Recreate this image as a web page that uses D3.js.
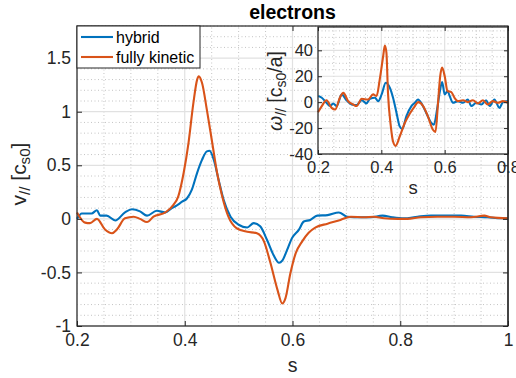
<!DOCTYPE html>
<html>
<head>
<meta charset="utf-8">
<script src="https://cdn.jsdelivr.net/npm/d3@7/dist/d3.min.js"></script>
<style>
  html, body { margin: 0; padding: 0; background: #fff; }
  svg { display: block; font-family: "Liberation Sans", Arial, Helvetica, sans-serif; }
</style>
</head>
<body>
<svg id="chart" width="516" height="378"></svg>
<script>
// ---- main panel: parallel velocity v_// along s ----
const hybridS = [0.200,0.209,0.227,0.237,0.243,0.255,0.271,0.289,0.302,0.317,0.330,0.348,0.364,0.376,0.382,0.395,0.404,0.413,0.423,0.432,0.441,0.446,0.454,0.463,0.472,0.485,0.500,0.516,0.528,0.540,0.553,0.565,0.575,0.581,0.590,0.599,0.612,0.621,0.633,0.646,0.665,0.686,0.702,0.727,0.745,0.767,0.785,0.807,0.832,0.857,0.881,0.913,0.937,0.962,0.987,1.000];
const hybridV = [0.00,0.05,0.05,0.08,0.03,0.03,-0.015,0.06,0.09,0.07,0.03,0.075,0.06,0.10,0.115,0.16,0.19,0.27,0.43,0.55,0.63,0.635,0.55,0.36,0.18,0.02,-0.055,-0.08,-0.04,-0.07,-0.20,-0.34,-0.41,-0.39,-0.29,-0.18,-0.10,-0.025,-0.01,0.03,0.035,0.06,0.02,0.015,0.015,0.03,0.015,0.005,0.02,0.03,0.03,0.03,0.02,0.015,0.005,0.005];

const kineticS = [0.200,0.215,0.224,0.237,0.252,0.265,0.274,0.289,0.305,0.317,0.330,0.342,0.364,0.379,0.388,0.398,0.407,0.416,0.423,0.426,0.432,0.441,0.451,0.460,0.469,0.481,0.497,0.516,0.534,0.547,0.559,0.572,0.581,0.587,0.596,0.606,0.618,0.630,0.643,0.665,0.689,0.708,0.733,0.751,0.770,0.795,0.813,0.838,0.869,0.900,0.931,0.956,0.968,1.000];
const kineticV = [0.06,-0.035,-0.04,0.00,-0.10,-0.135,-0.10,0.005,0.02,0.00,-0.03,0.02,0.06,0.13,0.21,0.43,0.71,1.08,1.30,1.33,1.27,1.02,0.71,0.43,0.22,0.02,-0.09,-0.12,-0.135,-0.21,-0.41,-0.66,-0.79,-0.74,-0.51,-0.32,-0.21,-0.13,-0.08,-0.045,-0.01,0.02,0.015,0.02,0.005,0.00,0.00,0.015,0.02,0.02,0.015,0.03,0.015,0.005];

const mainXTicks = [0.2, 0.4, 0.6, 0.8, 1.0];
const mainXTickLabels = ["0.2", "0.4", "0.6", "0.8", "1"];
const mainYTicks = [-1, -0.5, 0, 0.5, 1, 1.5];
const mainYTickLabels = ["-1", "-0.5", "0", "0.5", "1", "1.5"];

// ---- inset: parallel vorticity omega_// along s ----
const insetHybridS = [0.201,0.212,0.227,0.238,0.248,0.259,0.275,0.290,0.306,0.322,0.338,0.353,0.364,0.380,0.390,0.401,0.414,0.427,0.437,0.448,0.458,0.466,0.479,0.495,0.506,0.516,0.527,0.542,0.558,0.566,0.576,0.584,0.592,0.600,0.609,0.616,0.626,0.642,0.658,0.673,0.684,0.700,0.716,0.731,0.742,0.757,0.773,0.784,0.800];
const insetHybridW = [4.7,3.4,-0.5,-3,-1,-3,6,1.5,-1.8,-2.3,1.5,-1,2.6,3.4,0.8,6,15,11,3.4,-8.3,-18.7,-20.7,-10.9,-3,-0.5,2.1,-1,-8.3,-16.1,-17.4,-5.7,7.2,15.6,6,8.6,4.7,-0.5,0.8,-0.5,2.1,-3,-0.5,-1.8,1.5,-3,2.1,-4.4,0,0.8];

const insetKineticS = [0.200,0.212,0.227,0.243,0.254,0.269,0.280,0.295,0.311,0.322,0.338,0.358,0.374,0.385,0.395,0.406,0.411,0.416,0.421,0.430,0.437,0.445,0.458,0.474,0.490,0.506,0.516,0.532,0.547,0.563,0.571,0.579,0.586,0.592,0.600,0.609,0.621,0.631,0.642,0.658,0.673,0.689,0.705,0.721,0.736,0.752,0.768,0.784,0.800];
const insetKineticW = [-7.8,-3,1.5,-4.4,-5.7,3.4,7.2,0.8,-1.8,-3,2.6,2,6,4.7,17.6,35.8,43.6,38.4,7.2,-18.7,-30.4,-33.7,-26.5,-16.1,-8.8,-3,0,-3,-10.9,-21.3,-23,-0.5,20.2,26.7,20.2,8.6,7.8,3.4,0.8,1.5,0,1.5,-1,1.5,-1.8,0.8,-0.5,0.8,-0.5];

const insetXTicks = [0.2, 0.4, 0.6, 0.8];
const insetXTickLabels = ["0.2", "0.4", "0.6", "0.8"];
const insetYTicks = [-40, -20, 0, 20, 40];
const insetYTickLabels = ["-40", "-20", "0", "20", "40"];

const seriesNames = ["hybrid", "fully kinetic"];
const seriesColors = ["#0072BD", "#D95319"];

const svg = d3.select("#chart");
const AXIS = "#262626";
const GRID = "#e1e1e1";
const MINOR = "#c4c4c4";

function drawPanel(g, x, y, opt) {
  const [x0, x1] = x.range();
  const [y0, y1] = y.range(); // y0 bottom, y1 top
  // background
  g.append("rect").attr("x", x0).attr("y", y1).attr("width", x1 - x0).attr("height", y0 - y1)
    .attr("fill", "#fff");
  // minor grid (dotted)
  const minorX = d3.range(x.domain()[0], x.domain()[1] + 1e-9, opt.minorXStep)
    .filter(v => !opt.xTicks.some(t => Math.abs(t - v) < 1e-6));
  const minorY = d3.range(opt.minorYStart, y.domain()[1] + 1e-9, opt.minorYStep)
    .filter(v => !opt.yTicks.some(t => Math.abs(t - v) < 1e-6));
  const grid = g.append("g");
  grid.selectAll(".mx").data(minorX).join("line")
    .attr("x1", d => x(d)).attr("x2", d => x(d)).attr("y1", y0).attr("y2", y1)
    .attr("stroke", MINOR).attr("stroke-width", 1).attr("stroke-dasharray", "1,2.5");
  grid.selectAll(".my").data(minorY).join("line")
    .attr("y1", d => y(d)).attr("y2", d => y(d)).attr("x1", x0).attr("x2", x1)
    .attr("stroke", MINOR).attr("stroke-width", 1).attr("stroke-dasharray", "1,2.5");
  // major grid
  grid.selectAll(".gx").data(opt.xTicks).join("line")
    .attr("x1", d => x(d)).attr("x2", d => x(d)).attr("y1", y0).attr("y2", y1)
    .attr("stroke", GRID).attr("stroke-width", 1.2);
  grid.selectAll(".gy").data(opt.yTicks).join("line")
    .attr("y1", d => y(d)).attr("y2", d => y(d)).attr("x1", x0).attr("x2", x1)
    .attr("stroke", GRID).attr("stroke-width", 1.2);

  // data lines
  const line = d3.line().x(d => x(d[0])).y(d => y(d[1])).curve(d3.curveMonotoneX);
  opt.series.forEach((s, i) => {
    g.append("path").datum(d3.zip(s[0], s[1]))
      .attr("fill", "none").attr("stroke", seriesColors[i])
      .attr("stroke-width", 2.1).attr("stroke-linejoin", "round").attr("d", line);
  });
}

function drawFrame(g, x, y, opt) {
  const [x0, x1] = x.range();
  const [y0, y1] = y.range();
  const fmtX = d => opt.xLabels[opt.xTicks.indexOf(d)];
  const fmtY = d => opt.yLabels[opt.yTicks.indexOf(d)];
  const bottom = g.append("g").attr("transform", `translate(0,${y0})`)
    .call(d3.axisBottom(x).tickValues(opt.xTicks).tickFormat(fmtX).tickSize(-opt.tick).tickPadding(opt.padX));
  const left = g.append("g").attr("transform", `translate(${x0},0)`)
    .call(d3.axisLeft(y).tickValues(opt.yTicks).tickFormat(fmtY).tickSize(-opt.tick).tickPadding(opt.padY));
  const top = g.append("g").attr("transform", `translate(0,${y1})`)
    .call(d3.axisTop(x).tickValues(opt.xTicks).tickFormat("").tickSize(-opt.tick));
  const right = g.append("g").attr("transform", `translate(${x1},0)`)
    .call(d3.axisRight(y).tickValues(opt.yTicks).tickFormat("").tickSize(-opt.tick));
  [bottom, left, top, right].forEach(a => {
    a.select(".domain").remove();
    a.selectAll("line").attr("stroke", AXIS).attr("stroke-width", 1);
    a.selectAll("text").attr("fill", AXIS).attr("font-size", opt.fontSize)
      .attr("font-family", "Liberation Sans, Arial, sans-serif");
  });
  g.append("rect").attr("x", x0).attr("y", y1).attr("width", x1 - x0).attr("height", y0 - y1)
    .attr("fill", "none").attr("stroke", AXIS).attr("stroke-width", 1.2);
}

// scales
const mx = d3.scaleLinear().domain([0.2, 1.0]).range([77, 508]);
const my = d3.scaleLinear().domain([-1, 1.8]).range([326, 26]);
const ix = d3.scaleLinear().domain([0.2, 0.8]).range([318, 508]);
const iy = d3.scaleLinear().domain([-40, 58]).range([154, 27]);

const mainG = svg.append("g");
drawPanel(mainG, mx, my, {
  xTicks: mainXTicks, yTicks: mainYTicks, minorXStep: 0.05, minorYStep: 0.1, minorYStart: -1,
  series: [[hybridS, hybridV], [kineticS, kineticV]]
});
drawFrame(mainG, mx, my, {
  xTicks: mainXTicks, yTicks: mainYTicks, xLabels: mainXTickLabels, yLabels: mainYTickLabels,
  tick: 5, padX: 8, padY: 6, fontSize: 17.5
});

// axis labels and title of main panel
svg.append("text").attr("x", 292.5).attr("y", 372).attr("text-anchor", "middle")
  .attr("font-size", 19.5).attr("fill", AXIS).text("s");
svg.append("text").attr("x", 292.5).attr("y", 19).attr("text-anchor", "middle")
  .attr("font-size", 19.5).attr("font-weight", "bold").attr("fill", "#000").text("electrons");

function subLabel(parentSel, cx, cy, parts, size) {
  const t = parentSel.append("text")
    .attr("transform", `translate(${cx},${cy}) rotate(-90)`)
    .attr("text-anchor", "middle").attr("font-size", size).attr("fill", AXIS);
  parts.forEach(p => {
    const sp = t.append("tspan").text(p.t);
    if (p.sub) sp.attr("font-size", size * 0.72).attr("baseline-shift", "-25%");
    if (p.italic) sp.attr("font-style", "italic");
  });
  return t;
}
subLabel(svg, 26, 174, [{t: "v"}, {t: "//", sub: true}, {t: " [c"}, {t: "s0", sub: true}, {t: "]"}], 21);

// inset panel
const insetG = svg.append("g");
drawPanel(insetG, ix, iy, {
  xTicks: insetXTicks, yTicks: insetYTicks, minorXStep: 0.05, minorYStep: 5, minorYStart: -40,
  series: [[insetHybridS, insetHybridW], [insetKineticS, insetKineticW]]
});
drawFrame(insetG, ix, iy, {
  xTicks: insetXTicks, yTicks: insetYTicks, xLabels: insetXTickLabels, yLabels: insetYTickLabels,
  tick: 4, padX: 7, padY: 5, fontSize: 16.5
});
svg.append("text").attr("x", 413).attr("y", 194).attr("text-anchor", "middle")
  .attr("font-size", 18.5).attr("fill", AXIS).text("s");
subLabel(svg, 282, 91, [{t: "\u03C9", italic: true}, {t: "//", sub: true}, {t: " [c"}, {t: "s0", sub: true}, {t: "/a]"}], 19.5);

// main right border drawn above the inset labels
svg.append("line").attr("x1", 508).attr("x2", 508).attr("y1", 26).attr("y2", 326)
  .attr("stroke", AXIS).attr("stroke-width", 1.2);

// legend
const lg = svg.append("g");
lg.append("rect").attr("x", 77).attr("y", 26).attr("width", 123).attr("height", 42)
  .attr("fill", "#fff").attr("stroke", AXIS).attr("stroke-width", 1);
seriesNames.forEach((name, i) => {
  const yy = 37 + i * 20;
  lg.append("line").attr("x1", 81).attr("x2", 113).attr("y1", yy).attr("y2", yy)
    .attr("stroke", seriesColors[i]).attr("stroke-width", 2.1);
  lg.append("text").attr("x", 116).attr("y", yy + 5.5).attr("font-size", 16)
    .attr("fill", "#000").text(name);
});
</script>
</body>
</html>
